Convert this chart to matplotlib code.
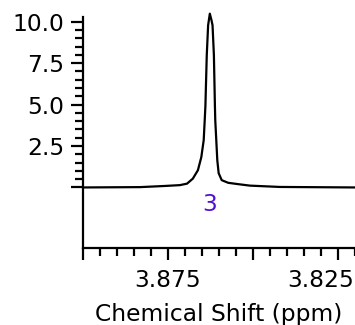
import numpy as np
import matplotlib
matplotlib.use("Agg")
import matplotlib.pyplot as plt
import matplotlib.transforms as mtransforms
from matplotlib.ticker import FixedLocator, MultipleLocator

plt.rcParams['font.family'] = ['DejaVu Sans']

# spectrum (ppm, intensity)
shift = [3.9000, 3.8832, 3.8759, 3.8715, 3.8694, 3.8677, 3.8662, 3.8652,
         3.8645, 3.8642, 3.8640, 3.8636, 3.8632, 3.8627,
         3.8622, 3.8619, 3.8615, 3.8612, 3.8611, 3.8608, 3.8605, 3.8601,
         3.8592, 3.8573, 3.8544, 3.8509, 3.8421, 3.8200]
intensity = [0.0, 0.02, 0.09, 0.14, 0.23, 0.53, 1.04, 1.83,
             2.85, 4.06, 4.9, 7.97, 9.78, 10.48,
             10.08, 9.78, 7.97, 4.9, 4.06, 2.85, 1.64, 0.86,
             0.44, 0.28, 0.2, 0.11, 0.03, 0.0]
peak_label = "3"
peak_pos = 3.8627
y_major = [0, 2.5, 5.0, 7.5, 10.0]
y_labels = ["", "2.5", "5.0", "7.5", "10.0"]
x_major = [3.9, 3.875, 3.85, 3.825]
x_labels = ["", "3.875", "", "3.825"]

fig = plt.figure(figsize=(3.55, 3.25), dpi=100)
ax = fig.add_axes([0.2338, 0.236, 0.7662, 0.7117])

ax.plot(shift, intensity, color='black', lw=1.6, clip_on=False,
        solid_joinstyle='round')
ax.set_xlim(3.9, 3.82)
ax.set_ylim(-3.67, 10.28)

ax.spines['top'].set_visible(False)
ax.spines['right'].set_visible(False)
ax.spines['left'].set_linewidth(1.6)
ax.spines['bottom'].set_linewidth(1.6)

ax.yaxis.set_major_locator(FixedLocator(y_major))
ax.set_yticklabels(y_labels)
ax.yaxis.set_minor_locator(FixedLocator(np.arange(0, 10.01, 0.5)))
ax.xaxis.set_major_locator(FixedLocator(x_major))
ax.set_xticklabels(x_labels)
ax.xaxis.set_minor_locator(MultipleLocator(0.005))

ax.tick_params(which='major', length=8.6, width=1.6, labelsize=16.8)
ax.tick_params(axis='x', which='major', pad=6.5)
ax.tick_params(axis='y', which='major', pad=5)
ax.tick_params(which='minor', length=5.8, width=1.6)

# last x label is pulled inside the figure, as in the original
last = ax.get_xticklabels()[-1]
last.set_transform(last.get_transform() +
                   mtransforms.ScaledTranslation(-17 / 100, 0, fig.dpi_scale_trans))

ax.text(peak_pos, -1.0, peak_label, color='#5010d0', fontsize=16.8,
        ha='center', va='center')
ax.set_xlabel("Chemical Shift (ppm)", fontsize=16.8, labelpad=8)

fig.savefig("out.png", dpi=100)
